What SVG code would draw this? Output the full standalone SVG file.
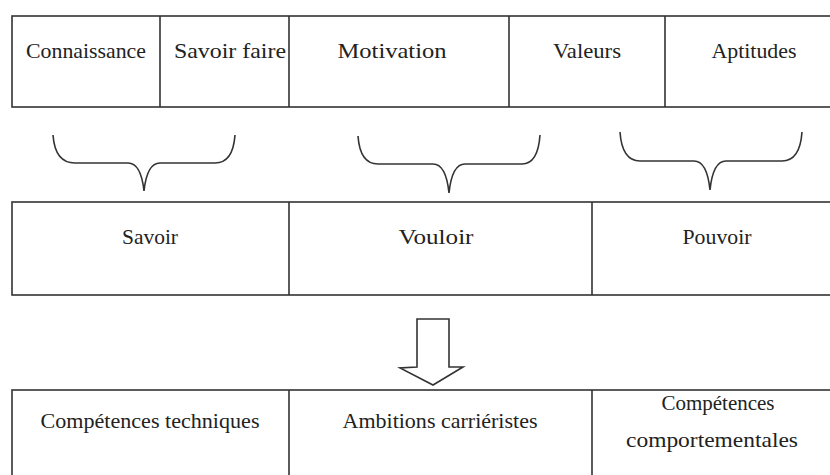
<svg xmlns="http://www.w3.org/2000/svg" width="830" height="475" viewBox="0 0 830 475">
<style>
.box{fill:#fff;stroke:#333;stroke-width:1.6}
.div{stroke:#333;stroke-width:1.6}
.t{font-family:'Liberation Serif','DejaVu Serif',serif;font-size:21px;fill:#222;text-anchor:middle}
.br{fill:none;stroke:#333;stroke-width:1.6}
</style>
<rect width="830" height="475" fill="#fff"/>
<g id="row1">
<rect class="box" x="12" y="16" width="840" height="91"/>
<g id="connaissance"><text class="t" x="86" y="58" textLength="120" lengthAdjust="spacingAndGlyphs">Connaissance</text></g>
<line class="div" x1="160" y1="16" x2="160" y2="107"/>
<g id="savoir-faire"><text class="t" x="230" y="58" textLength="112" lengthAdjust="spacingAndGlyphs">Savoir faire</text></g>
<line class="div" x1="289" y1="16" x2="289" y2="107"/>
<g id="motivation"><text class="t" x="392" y="58" textLength="109" lengthAdjust="spacingAndGlyphs">Motivation</text></g>
<line class="div" x1="509" y1="16" x2="509" y2="107"/>
<g id="valeurs"><text class="t" x="587" y="58" textLength="68" lengthAdjust="spacingAndGlyphs">Valeurs</text></g>
<line class="div" x1="665" y1="16" x2="665" y2="107"/>
<g id="aptitudes"><text class="t" x="754" y="58" textLength="85" lengthAdjust="spacingAndGlyphs">Aptitudes</text></g>
</g>
<g id="row2">
<rect class="box" x="12" y="202" width="840" height="93"/>
<g id="savoir"><text class="t" x="150" y="244" textLength="56" lengthAdjust="spacingAndGlyphs">Savoir</text></g>
<line class="div" x1="289" y1="202" x2="289" y2="295"/>
<g id="vouloir"><text class="t" x="436" y="244" textLength="75" lengthAdjust="spacingAndGlyphs">Vouloir</text></g>
<line class="div" x1="592" y1="202" x2="592" y2="295"/>
<g id="pouvoir"><text class="t" x="717" y="244" textLength="69" lengthAdjust="spacingAndGlyphs">Pouvoir</text></g>
</g>
<g id="row3">
<rect class="box" x="12" y="390" width="840" height="120"/>
<g id="competences-techniques"><text class="t" x="150" y="428" textLength="219" lengthAdjust="spacingAndGlyphs">Compétences techniques</text></g>
<line class="div" x1="289" y1="390" x2="289" y2="480"/>
<g id="ambitions"><text class="t" x="440" y="428" textLength="195" lengthAdjust="spacingAndGlyphs">Ambitions carriéristes</text></g>
<line class="div" x1="592" y1="390" x2="592" y2="480"/>
<g id="competences-comportementales"><text class="t" x="718" y="410" textLength="113" lengthAdjust="spacingAndGlyphs">Compétences</text><text class="t" x="712" y="447" textLength="172" lengthAdjust="spacingAndGlyphs">comportementales</text></g>
</g>
<g id="connectors">
<path class="br" d="M53,135 Q55,163 75,163 L128,163 Q141,163 144,191 Q147,163 160,163 L215,163 Q233,163 235,135"/>
<path class="br" d="M358,136 Q360,164 378,164 L433,164 Q446,164 449,193 Q452,164 465,164 L522,164 Q538,164 540,135"/>
<path class="br" d="M620,132 Q622,161 640,161 L694,161 Q707,161 710,190 Q713,161 726,161 L782,161 Q800,161 802,132"/>
<path class="br" d="M417,319 L449,319 L449,367 L463,367 L433,385 L400,368 L417,367 Z"/>
</g>
</svg>
